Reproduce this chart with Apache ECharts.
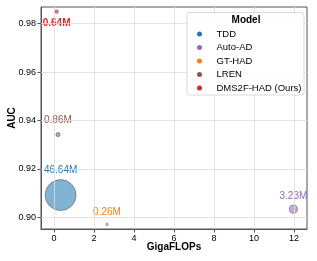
<!DOCTYPE html>
<html><head><meta charset="utf-8">
<script src="https://cdn.jsdelivr.net/npm/echarts@6/dist/echarts.min.js"></script>
<style>html,body{margin:0;padding:0;background:#fff}#c{width:317px;height:261px}</style>
</head><body><div id="c"></div>
<script>
const models = ['TDD', 'Auto-AD', 'GT-HAD', 'LREN', 'DMS2F-HAD (Ours)'];
const gflops = [0.33, 11.97, 2.65, 0.20, 0.13];
const auc = [0.9092, 0.9034, 0.8971, 0.9342, 0.9850];
const paramsM = [46.64, 3.23, 0.26, 0.86, 0.64];
const xTicks = [0, 2, 4, 6, 8, 10, 12];
const yTicks = [0.90, 0.92, 0.94, 0.96, 0.98];

const colors = {'TDD':'#1f77b4','Auto-AD':'#9467bd','GT-HAD':'#ff7f0e','LREN':'#8c564b','DMS2F-HAD (Ours)':'#d62728'};
const labelCfg = {
  'TDD': {offset:[0,-24.5], fontWeight:'normal'},
  'Auto-AD': {offset:[0,-13], fontWeight:'normal'},
  'GT-HAD': {offset:[0,-12.5], fontWeight:'normal'},
  'LREN': {offset:[0,-14.5], fontWeight:'normal'},
  'DMS2F-HAD (Ours)': {offset:[0,12], fontWeight:'bold'}
};
const FONT = 'Liberation Sans, Arial, sans-serif';
const maxP = Math.max(...paramsM);
const sizeOf = p => 31 * Math.sqrt(p / maxP);
const withAlpha = (hex, a) => {
  const n = parseInt(hex.slice(1), 16);
  return 'rgba(' + (n >> 16) + ',' + ((n >> 8) & 255) + ',' + (n & 255) + ',' + a + ')';
};

const series = [{
  type: 'scatter', data: [], z: 1, silent: true,
  markLine: {
    silent: true, symbol: ['none','none'], label: {show:false},
    lineStyle: {color:'#dcdcdc', width:0.8, type:'solid'},
    animation: false,
    data: xTicks.map(v => ({xAxis: v})).concat(yTicks.map(v => ({yAxis: v})))
  }
}];
models.forEach((m, i) => {
  series.push({
    type: 'scatter', name: m, z: 3,
    data: [[gflops[i], auc[i], paramsM[i]]],
    symbolSize: d => sizeOf(d[2]),
    itemStyle: {color: withAlpha(colors[m], 0.7), borderColor: '#444', borderWidth: 0.6},
    label: {
      show: true, position: 'inside', offset: labelCfg[m].offset,
      formatter: p => p.data[2].toFixed(2) + 'M',
      color: colors[m], fontSize: 10, fontFamily: FONT, fontWeight: labelCfg[m].fontWeight,
      textBorderWidth: 0, textBorderColor: 'transparent', opacity: 1
    },
    emphasis: {disabled: true}
  });
});

const chart = echarts.init(document.getElementById('c'), null, {renderer:'canvas'});
chart.setOption({
  animation: false,
  grid: {left: 41, top: 7, right: 10, bottom: 32, show: true, borderColor: '#555', borderWidth: 1,
         backgroundColor: 'transparent', containLabel: false, outerBoundsMode: 'none'},
  xAxis: {
    type: 'value', min: -0.65, max: 12.65,
    name: 'GigaFLOPs', nameLocation: 'middle', nameGap: 13, nameMoveOverlap: false,
    nameTextStyle: {fontSize: 10, fontWeight: 'bold', fontFamily: FONT, color: '#000'},
    axisLine: {show: true, onZero: false, lineStyle: {color: '#555'}},
    axisTick: {show: true, length: 3.5, customValues: xTicks, lineStyle: {color: '#555'}},
    axisLabel: {customValues: xTicks, fontSize: 9, fontFamily: FONT, color: '#000', margin: 5, showMinLabel: true, showMaxLabel: true},
    splitLine: {show: false}
  },
  yAxis: {
    type: 'value', min: 0.8952, max: 0.9869,
    name: 'AUC', nameLocation: 'middle', nameGap: 24, nameRotate: 90, nameMoveOverlap: false,
    nameTextStyle: {fontSize: 10, fontWeight: 'bold', fontFamily: FONT, color: '#000'},
    axisLine: {show: true, onZero: false, lineStyle: {color: '#555'}},
    axisTick: {show: true, length: 3.5, customValues: yTicks, lineStyle: {color: '#555'}},
    axisLabel: {customValues: yTicks, fontSize: 9, fontFamily: FONT, color: '#000', margin: 5, formatter: v => v.toFixed(2)},
    splitLine: {show: false}
  },
  legend: {
    z: 200, orient: 'vertical', left: 192, top: 24,
    itemWidth: 24, itemHeight: 5, itemGap: 3.5, icon: 'circle',
    textStyle: {fontSize: 9.5, fontFamily: FONT, color: '#000', lineHeight: 10},
    data: models.map(m => ({name: m, itemStyle: {color: colors[m], borderWidth: 0, opacity: 1}}))
  },
  graphic: [
    {type: 'rect', z: 150, shape: {x: 187, y: 12.5, width: 117, height: 82.5, r: 2.5},
     style: {fill: 'rgba(255,255,255,0.85)', stroke: '#cfcfcf', lineWidth: 0.8}},
    {type: 'text', z: 151, x: 246, y: 20,
     style: {text: 'Model', fontSize: 10, fontWeight: 'bold', fontFamily: FONT, fill: '#000', align: 'center', verticalAlign: 'middle'}}
  ],
  series: series
});
</script></body></html>
